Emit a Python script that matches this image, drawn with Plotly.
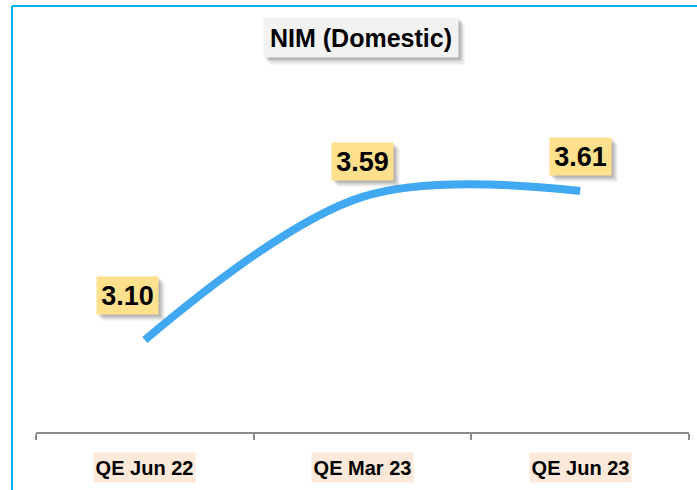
import plotly.graph_objects as go

categories = ["QE Jun 22", "QE Mar 23", "QE Jun 23"]
nim_values = [3.10, 3.59, 3.61]
value_labels = ["3.10", "3.59", "3.61"]
chart_title = "NIM (Domestic)"

# label offsets (style)
label_shift_x = [-17, 0, 0]
label_shift_y = [44, 35, 34]

W, H = 697, 490
ML, MR, MT, MB = 36, 8, 0, 58
PW, PH = W - ML - MR, H - MT - MB

fig = go.Figure()
fig.add_trace(go.Scatter(
    x=categories, y=nim_values, mode="lines",
    line=dict(color="#41A8F2", width=8, shape="spline", smoothing=1.0),
    hoverinfo="skip", showlegend=False,
))

ann = []
lab_font = dict(family="Liberation Sans, Arial, sans-serif", size=27, color="#000000", weight="bold")
for c, v, t, dx, dy in zip(categories, nim_values, value_labels, label_shift_x, label_shift_y):
    for off, a in ((6, 0.08), (4, 0.12), (2, 0.12)):
        ann.append(dict(x=c, y=v, xref="x", yref="y", text=" ", showarrow=False,
                        xshift=dx + off, yshift=dy - off, width=57, height=33, borderpad=2,
                        bgcolor=f"rgba(0,0,0,{a})", font=lab_font))
    ann.append(dict(x=c, y=v, xref="x", yref="y", text=t, showarrow=False,
                    xshift=dx, yshift=dy, width=57, height=33, borderpad=2,
                    bgcolor="#FFE08C", font=lab_font))

# category labels
cat_font = dict(family="Liberation Sans, Arial, sans-serif", size=20, color="#000000", weight="bold")
for c in categories:
    ann.append(dict(x=c, y=(PH - 468 + MT) / PH, xref="x", yref="paper", text=c, showarrow=False,
                    yanchor="middle", width=99, height=27, borderpad=1,
                    bgcolor="#FDE9D9", font=cat_font))

# title box
tx, ty = 361, 38
title_font = dict(family="Liberation Sans, Arial, sans-serif", size=25, color="#000000", weight="bold")
for off, a in ((6, 0.08), (4, 0.12), (2, 0.14)):
    ann.append(dict(x=(tx - ML + off) / PW, y=(PH - (ty + off - MT)) / PH, xref="paper", yref="paper",
                    text=" ", showarrow=False, xanchor="center", yanchor="middle",
                    width=190, height=35, borderpad=2, bgcolor=f"rgba(0,0,0,{a})", font=title_font))
ann.append(dict(x=(tx - ML) / PW, y=(PH - (ty - MT)) / PH, xref="paper", yref="paper",
                text=chart_title, showarrow=False, xanchor="center", yanchor="middle",
                width=190, height=35, borderpad=2, bgcolor="#F2F2F2", font=title_font))

# outer frame (cyan) lines
fx0 = (12 - ML) / PW
fy0 = (PH - (6 - MT)) / PH
shapes = [
    dict(type="line", xref="paper", yref="paper", x0=fx0, x1=(W + 5 - ML) / PW, y0=fy0, y1=fy0,
         line=dict(color="#00B0F0", width=2)),
    dict(type="line", xref="paper", yref="paper", x0=fx0, x1=fx0, y0=fy0, y1=(PH - (H + 5 - MT)) / PH,
         line=dict(color="#00B0F0", width=2)),
]

fig.update_layout(
    width=W, height=H, margin=dict(l=ML, r=MR, t=MT, b=MB),
    paper_bgcolor="white", plot_bgcolor="white",
    annotations=ann, shapes=shapes,
    xaxis=dict(type="category", range=[-0.5, 2.5], showgrid=False, zeroline=False,
               showline=True, linecolor="#8C8C8C", linewidth=2,
               ticks="outside", tickson="boundaries", ticklen=6, tickwidth=2, tickcolor="#8C8C8C",
               showticklabels=False),
    yaxis=dict(range=[2.785, 4.2637], visible=False, showgrid=False, zeroline=False),
)

fig.write_html("out.html", config={"displayModeBar": False},
               post_script="document.body.style.margin='0';document.body.style.overflow='hidden';")
